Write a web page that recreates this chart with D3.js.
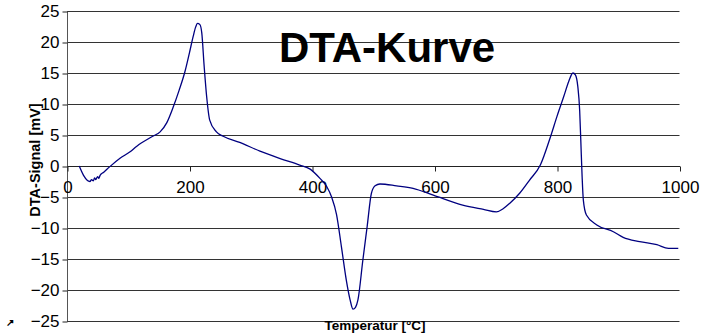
<!DOCTYPE html>
<html><head><meta charset="utf-8">
<script src="https://cdn.jsdelivr.net/npm/d3@7"></script>
<style>html,body{margin:0;padding:0;background:#fff}svg{display:block}</style>
</head><body>
<svg id="c" width="702" height="334"></svg>
<script>
const title = "DTA-Kurve";
const xTitle = "Temperatur [°C]";
const yTitle = "DTA-Signal [mV]";
const xTicks = [0, 200, 400, 600, 800, 1000];
const yTicks = [-25, -20, -15, -10, -5, 0, 5, 10, 15, 20, 25];
const temps = [20, 27, 37.5, 40, 43, 45, 47, 50, 52, 54, 60, 70, 86, 103, 114, 140, 152, 163, 173, 183, 192.5, 200, 206, 210, 213, 217, 220, 224, 228, 233, 244, 255, 282, 315, 348, 380, 397, 413, 424, 432, 440, 448, 456, 462, 467, 471, 475, 483, 490, 497, 503, 511, 538, 565, 598, 646, 680, 701, 712, 723, 739, 755, 773, 789, 800, 811, 819, 826, 830, 834, 837, 839, 841, 843, 848, 865, 892, 908, 935, 963, 982, 998];
const signal = [0, -1.5, -2.5, -2.2, -2.4, -1.9, -2.2, -1.7, -2.0, -1.5, -1.0, -0.1, 1.2, 2.3, 3.2, 4.8, 5.5, 7.0, 9.4, 12.2, 15.2, 18.3, 20.9, 22.4, 23.0, 22.8, 21.5, 16, 11.2, 7.4, 5.5, 4.8, 3.8, 2.4, 1.2, 0.15, -0.5, -2.0, -3.3, -5.0, -7.8, -13, -18.4, -21.5, -23.1, -22.8, -21.6, -15.2, -9.8, -4.4, -3.2, -2.9, -3.2, -3.6, -4.7, -6.3, -7.0, -7.4, -6.9, -6.0, -4.4, -2.3, 0.2, 4.6, 8.0, 11.2, 13.6, 15.0, 14.7, 12.8, 9.0, 3.7, -1.7, -5.5, -7.9, -9.5, -10.6, -11.5, -12.2, -12.7, -13.3, -13.3];

const svg = d3.select("#c");
const font = "Arial, 'Liberation Sans', sans-serif";
const x = d3.scaleLinear().domain([0, 1000]).range([67, 679.5]);
const y = d3.scaleLinear().domain([-25, 25]).range([321, 11]);

// gridlines
svg.append("g").selectAll("line").data(yTicks).join("line")
  .attr("x1", x(0)).attr("x2", x(1000))
  .attr("y1", d => Math.round(y(d)) + 0.5).attr("y2", d => Math.round(y(d)) + 0.5)
  .attr("stroke", "#333").attr("stroke-width", 1);

// y axis
const yAxis = d3.axisLeft(y).tickValues(yTicks).tickSize(5).tickPadding(3).tickFormat(d3.format("d"));
const gy = svg.append("g").attr("transform", `translate(${Math.round(x(0)) + 0.5},0.5)`).call(yAxis);
gy.select(".domain").attr("stroke", "#555").attr("d", `M0,${y(25)}V${y(-25)}`);
gy.selectAll(".tick line").attr("stroke", "#222");
gy.selectAll("text").attr("font-family", font).attr("font-size", 17).attr("fill", "#000");

// x axis at y=0
const xAxis = d3.axisBottom(x).tickValues(xTicks).tickSize(5).tickPadding(9).tickFormat(d3.format("d"));
const gx = svg.append("g").attr("transform", `translate(0.5,${Math.round(y(0)) + 0.5})`).call(xAxis);
gx.select(".domain").attr("stroke", "#222").attr("d", `M${x(0)},0H${x(1000)}`);
gx.selectAll(".tick line").attr("stroke", "#222");
gx.selectAll("text").attr("font-family", font).attr("font-size", 17).attr("fill", "#000");

// curve
const pts = temps.map((t, i) => [t, signal[i]]);
svg.append("path").datum(pts)
  .attr("d", d3.line().x(d => x(d[0])).y(d => y(d[1])).curve(d3.curveMonotoneX))
  .attr("fill", "none").attr("stroke", "#000080").attr("stroke-width", 1.3);

// titles
svg.append("text").attr("x", 387).attr("y", 62).attr("text-anchor", "middle")
  .attr("font-family", font).attr("font-weight", "bold").attr("font-size", 42).text(title);
svg.append("text").attr("x", 375).attr("y", 330).attr("text-anchor", "middle")
  .attr("font-family", font).attr("font-weight", "bold").attr("font-size", 13.5).text(xTitle);
svg.append("text").attr("transform", "translate(40,160) rotate(-90)").attr("text-anchor", "middle")
  .attr("font-family", font).attr("font-weight", "bold").attr("font-size", 14.5).text(yTitle);
svg.append("text").attr("x", 6).attr("y", 326).attr("font-family", font).attr("font-weight", "bold")
  .attr("font-size", 10).text("↗");
</script>
</body></html>
